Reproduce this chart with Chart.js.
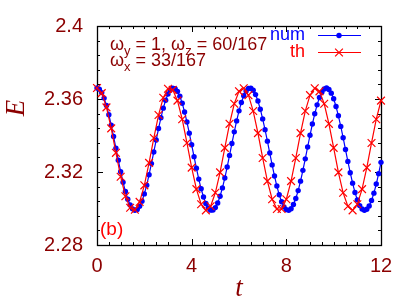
<!DOCTYPE html>
<html>
<head>
<meta charset="utf-8">
<script src="https://cdn.jsdelivr.net/npm/chart.js@4/dist/chart.umd.min.js"></script>
<style>
  html, body { margin: 0; padding: 0; background: #fff; }
  canvas { display: block; }
</style>
</head>
<body>
<canvas id="energy" width="407" height="304"></canvas>
<script>
// time steps of the two curves
var dtNum = 0.1;
var dtTh = 0.2;

// E(t), numerical solution (blue dots)
var eNum = [
  2.3660, 2.3654, 2.3635, 2.3605, 2.3564, 2.3514, 2.3457, 2.3395, 2.3330, 2.3265,
  2.3202, 2.3144, 2.3093, 2.3051, 2.3019, 2.2998, 2.2990, 2.2995, 2.3012, 2.3040,
  2.3080, 2.3128, 2.3185, 2.3246, 2.3310, 2.3375, 2.3438, 2.3497, 2.3550, 2.3593,
  2.3627, 2.3649, 2.3659, 2.3657, 2.3642, 2.3615, 2.3577, 2.3529, 2.3474, 2.3413,
  2.3349, 2.3284, 2.3221, 2.3161, 2.3108, 2.3063, 2.3027, 2.3003, 2.2991, 2.2992,
  2.3005, 2.3030, 2.3067, 2.3113, 2.3167, 2.3227, 2.3291, 2.3356, 2.3420, 2.3480,
  2.3535, 2.3581, 2.3618, 2.3644, 2.3658, 2.3659, 2.3648, 2.3624, 2.3589, 2.3544,
  2.3491, 2.3432, 2.3369, 2.3304, 2.3239, 2.3178, 2.3123, 2.3075, 2.3037, 2.3009,
  2.2994, 2.2990, 2.2999, 2.3022, 2.3055, 2.3098, 2.3150, 2.3209, 2.3272, 2.3337,
  2.3401, 2.3463, 2.3519, 2.3568, 2.3608, 2.3637, 2.3655, 2.3660, 2.3652, 2.3632,
  2.3601, 2.3559, 2.3508, 2.3450, 2.3388, 2.3323, 2.3258, 2.3196, 2.3139, 2.3088,
  2.3047, 2.3016, 2.2997, 2.2990, 2.2996, 2.3014, 2.3044, 2.3084, 2.3134, 2.3191,
  2.3253
];

// E(t), theory (red crosses)
var eTh = [
  2.3660, 2.3632, 2.3554, 2.3439, 2.3305, 2.3174, 2.3067, 2.3004, 2.2993, 2.3036,
  2.3127, 2.3250, 2.3386, 2.3512, 2.3607, 2.3656, 2.3650, 2.3591, 2.3489, 2.3359,
  2.3224, 2.3106, 2.3023, 2.2990, 2.3012, 2.3086, 2.3198, 2.3332, 2.3464, 2.3574,
  2.3642, 2.3659, 2.3621, 2.3534, 2.3413, 2.3277, 2.3150, 2.3051, 2.2997, 2.2997,
  2.3051, 2.3150, 2.3277, 2.3413, 2.3534, 2.3621, 2.3659, 2.3642, 2.3574, 2.3464,
  2.3332, 2.3198, 2.3086, 2.3012, 2.2990, 2.3023, 2.3106, 2.3224, 2.3359, 2.3489,
  2.3591
];

var xTicks = [0, 4, 8, 12];
var yTicks = [2.28, 2.32, 2.36, 2.4];
var xMinorStep = 0.5;
var yMinorStep = 0.008;

var darkRed = '#8b0000';
var labelFont = '"Liberation Sans", Arial, sans-serif';

function toPoints(values, dt) {
    return values.map(function (v, i) { return {x: i * dt, y: v}; });
}

// frame, inward ticks on all four sides, axis titles and texts
var decorations = {
    id: 'decorations',
    beforeDatasetsDraw: function (chart) {
        var ctx = chart.ctx;
        var a = chart.chartArea;
        var xs = chart.scales.x;
        var ys = chart.scales.y;
        ctx.save();
        ctx.strokeStyle = '#000';
        ctx.lineWidth = 1;
        ctx.beginPath();
        var v, px, len, k;
        for (k = 0; xs.min + k * xMinorStep <= xs.max + 1e-9; k++) {
            v = xs.min + k * xMinorStep;
            px = Math.round(xs.getPixelForValue(v)) + 0.5;
            len = xTicks.indexOf(v) >= 0 ? 6 : 3;
            ctx.moveTo(px, a.bottom); ctx.lineTo(px, a.bottom - len);
            ctx.moveTo(px, a.top); ctx.lineTo(px, a.top + len);
        }
        for (k = 0; ys.min + k * yMinorStep <= ys.max + 1e-9; k++) {
            v = ys.min + k * yMinorStep;
            px = Math.round(ys.getPixelForValue(v)) + 0.5;
            len = (k % 5 === 0) ? 6 : 3;
            ctx.moveTo(a.left, px); ctx.lineTo(a.left + len, px);
            ctx.moveTo(a.right, px); ctx.lineTo(a.right - len, px);
        }
        ctx.stroke();
        ctx.lineWidth = 1.3;
        ctx.strokeRect(Math.round(a.left) + 0.5, Math.round(a.top) + 0.5,
            Math.round(a.right - a.left), Math.round(a.bottom - a.top));
        ctx.restore();
    },
    afterDatasetsDraw: function (chart) {
        var ctx = chart.ctx;
        var H = Chart.helpers;
        ctx.save();

        // axis titles
        ctx.fillStyle = darkRed;
        ctx.font = 'italic 27px "Liberation Serif", "Times New Roman", serif';
        ctx.textAlign = 'center';
        ctx.textBaseline = 'middle';
        ctx.fillText('t', 239, 289);
        ctx.save();
        ctx.translate(17, 108);
        ctx.rotate(-Math.PI / 2);
        ctx.fillText('E', 0, 0);
        ctx.restore();

        // parameters, with subscripts
        ctx.textAlign = 'left';
        ctx.textBaseline = 'alphabetic';
        function subText(parts, x, y) {
            parts.forEach(function (p) {
                if (p.sub) {
                    ctx.font = '13px ' + labelFont;
                    ctx.fillText(p.t, x, y + 5);
                } else {
                    ctx.font = '18px ' + labelFont;
                    ctx.fillText(p.t, x, y);
                }
                x += ctx.measureText(p.t).width;
            });
        }
        subText([{t: 'ω'}, {t: 'y', sub: true}, {t: ' = 1, ω'}, {t: 'z', sub: true}, {t: ' = 60/167'}], 110, 50);
        subText([{t: 'ω'}, {t: 'x', sub: true}, {t: ' = 33/167'}], 110, 66);

        // panel label
        ctx.fillStyle = '#ff0000';
        ctx.font = '19px ' + labelFont;
        ctx.fillText('(b)', 100, 235);

        // key
        chart.data.datasets.forEach(function (ds, i) {
            var y = i === 0 ? 35 : 52;
            ctx.fillStyle = ds.borderColor;
            ctx.font = '18px ' + labelFont;
            ctx.textAlign = 'right';
            ctx.fillText(ds.label, 305, y + 5);
            ctx.strokeStyle = ds.borderColor;
            ctx.lineWidth = ds.borderWidth;
            ctx.beginPath();
            ctx.moveTo(318, y + 0.5);
            ctx.lineTo(361, y + 0.5);
            ctx.stroke();
            H.drawPoint(ctx, {
                pointStyle: ds.pointStyle,
                radius: ds.pointRadius,
                borderWidth: ds.pointBorderWidth,
                rotation: 0
            }, 339, y + 0.5);
        });
        ctx.restore();
    }
};

var energy = document.getElementById('energy');
var energy_chart = new Chart(energy, {
    type: 'line',
    data: {
        datasets: [
            {
                label: 'num',
                data: toPoints(eNum, dtNum),
                borderColor: '#0000ff',
                backgroundColor: '#0000ff',
                borderWidth: 1.2,
                pointStyle: 'circle',
                pointRadius: 2.7,
                pointBorderWidth: 0,
                pointBackgroundColor: '#0000ff',
                pointBorderColor: '#0000ff',
                tension: 0,
                fill: false,
                clip: 6,
                order: 1
            },
            {
                label: 'th',
                data: toPoints(eTh, dtTh),
                borderColor: '#ff0000',
                backgroundColor: '#ff0000',
                borderWidth: 1.2,
                pointStyle: 'crossRot',
                pointRadius: 5.5,
                pointBorderWidth: 1.2,
                pointBackgroundColor: '#ff0000',
                pointBorderColor: '#ff0000',
                tension: 0,
                fill: false,
                clip: 6,
                order: 0
            }
        ]
    },
    options: {
        responsive: false,
        animation: false,
        devicePixelRatio: 1,
        layout: {padding: {left: 0, top: 22, right: 26, bottom: 0}},
        plugins: {legend: {display: false}, tooltip: {enabled: false}},
        scales: {
            x: {
                type: 'linear',
                min: 0,
                max: 12,
                afterBuildTicks: function (scale) {
                    scale.ticks = xTicks.map(function (v) { return {value: v}; });
                },
                afterFit: function (scale) { scale.height = 59; },
                grid: {display: false, drawTicks: false},
                border: {display: false},
                ticks: {
                    padding: 9,
                    color: darkRed,
                    font: {family: labelFont, size: 20},
                    maxRotation: 0
                }
            },
            y: {
                type: 'linear',
                min: 2.28,
                max: 2.4,
                afterBuildTicks: function (scale) {
                    scale.ticks = yTicks.map(function (v) { return {value: v}; });
                },
                afterFit: function (scale) { scale.width = 97; },
                grid: {display: false, drawTicks: false},
                border: {display: false},
                ticks: {
                    padding: 14,
                    color: darkRed,
                    font: {family: labelFont, size: 20},
                    callback: function (v) { return String(Number(v.toFixed(2))); }
                }
            }
        }
    },
    plugins: [decorations]
});
</script>
</body>
</html>
